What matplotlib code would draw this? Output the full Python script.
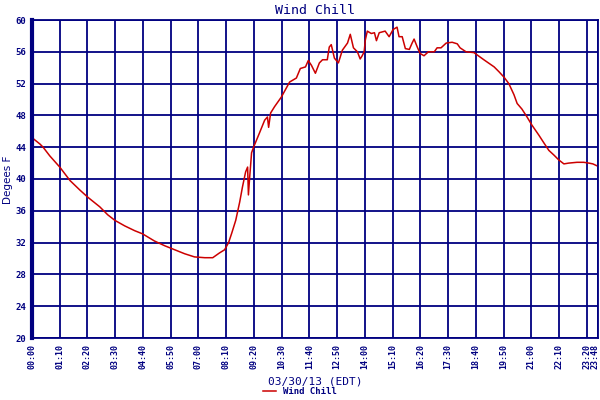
import numpy as np
import matplotlib.pyplot as plt
import matplotlib.transforms as mtransforms

# minutes since midnight, wind chill in deg F
minutes = [0, 20, 28, 45, 70, 96, 121, 141, 171, 191, 209, 234, 259, 279, 309, 335,
           350, 385, 410, 436, 456, 473, 486, 496, 504, 514, 524, 531, 539, 544, 546,
           549, 554, 559, 574, 587, 594, 597, 602, 612, 629, 650, 667, 677, 690, 697,
           705, 715, 725, 733, 745, 750, 755, 763, 773, 783, 796, 803, 811, 821, 828,
           833, 838, 841, 846, 856, 864, 869, 876, 891, 901, 911, 921, 926, 934, 942,
           952, 959, 964, 972, 979, 989, 1000, 1015, 1022, 1032, 1045, 1060, 1073,
           1080, 1095, 1115, 1140, 1166, 1178, 1191, 1203, 1216, 1224, 1236, 1249,
           1261, 1279, 1292, 1304, 1317, 1329, 1342, 1354, 1375, 1392, 1405, 1415, 1428]
chill = [45.2, 44.4, 44.0, 42.9, 41.5, 39.8, 38.6, 37.7, 36.5, 35.5, 34.8, 34.1, 33.5,
         33.1, 32.2, 31.6, 31.3, 30.6, 30.2, 30.1, 30.1, 30.7, 31.1, 32.0, 33.2, 34.8,
         37.1, 39.0, 40.9, 41.5, 38.0, 40.1, 43.3, 44.0, 45.8, 47.4, 47.8, 46.5, 48.3,
         49.1, 50.3, 52.2, 52.7, 53.9, 54.1, 54.9, 54.3, 53.3, 54.6, 55.0, 55.0, 56.6,
         56.9, 55.2, 54.6, 56.2, 57.1, 58.2, 56.5, 56.0, 55.1, 55.5, 56.0, 57.5, 58.6,
         58.3, 58.4, 57.4, 58.4, 58.6, 57.9, 58.8, 59.1, 57.9, 57.9, 56.4, 56.3, 57.1,
         57.6, 56.6, 55.8, 55.5, 56.0, 56.0, 56.5, 56.5, 57.1, 57.2, 57.0, 56.5, 56.0,
         55.9, 55.0, 54.1, 53.5, 52.8, 52.0, 50.6, 49.5, 48.8, 47.8, 46.8, 45.5, 44.5,
         43.6, 43.0, 42.4, 41.9, 42.0, 42.1, 42.1, 42.0, 41.9, 41.6]

tick_minutes = [0, 70, 140, 210, 280, 350, 420, 490, 560, 630, 700, 770, 840, 910,
                980, 1050, 1120, 1190, 1260, 1330, 1400, 1428]
tick_labels = ["00:00", "01:10", "02:20", "03:30", "04:40", "05:50", "07:00", "08:10",
               "09:20", "10:30", "11:40", "12:50", "14:00", "15:10", "16:20", "17:30",
               "18:40", "19:50", "21:00", "22:10", "23:20", "23:48"]
y_ticks = list(range(20, 61, 4))

navy = "#000080"
mono = "DejaVu Sans Mono"

fig = plt.figure(figsize=(6, 4), dpi=100)
ax = fig.add_axes([32 / 600, 62 / 400, 566 / 600, 318 / 400])

ax.plot(minutes, chill, color="#cc0000", lw=1.1, label="Wind Chill")

ax.set_xlim(0, 1428)
ax.set_ylim(20, 60)
ax.set_xticks(tick_minutes)
ax.set_xticklabels(tick_labels, rotation=90, family=mono, fontsize=6,
                   fontweight="bold", color=navy)
ax.set_yticks(y_ticks)
ax.set_yticklabels([str(v) for v in y_ticks], family=mono, fontsize=6.5,
                   fontweight="bold", color=navy)
ax.tick_params(length=0, pad=4)

# nudge the last (crowded) time label inside the figure
last = ax.get_xticklabels()[-1]
last.set_transform(last.get_transform() +
                   mtransforms.ScaledTranslation(-3 / 100, 0, fig.dpi_scale_trans))

ax.grid(True, color=navy, lw=1.3)
ax.set_axisbelow(True)
for side in ["top", "right", "bottom"]:
    ax.spines[side].set_color(navy)
    ax.spines[side].set_linewidth(1.3)
ax.spines["left"].set_color(navy)
ax.spines["left"].set_linewidth(3)

ax.set_title("Wind Chill", family=mono, fontsize=9.5, color=navy, pad=4)
fig.text(8 / 600, 0.55, "Degees F", rotation=90, ha="center", va="center",
         color=navy, fontsize=7.5)
ax.set_xlabel("03/30/13 (EDT)", family=mono, fontsize=8, color=navy, labelpad=6)

fig.legend(loc="lower center", bbox_to_anchor=(0.5, -0.01), frameon=False,
           prop={"family": mono, "size": 6.5, "weight": "bold"}, handlelength=1.4,
           labelcolor=navy)

fig.savefig("out.png", dpi=100)
